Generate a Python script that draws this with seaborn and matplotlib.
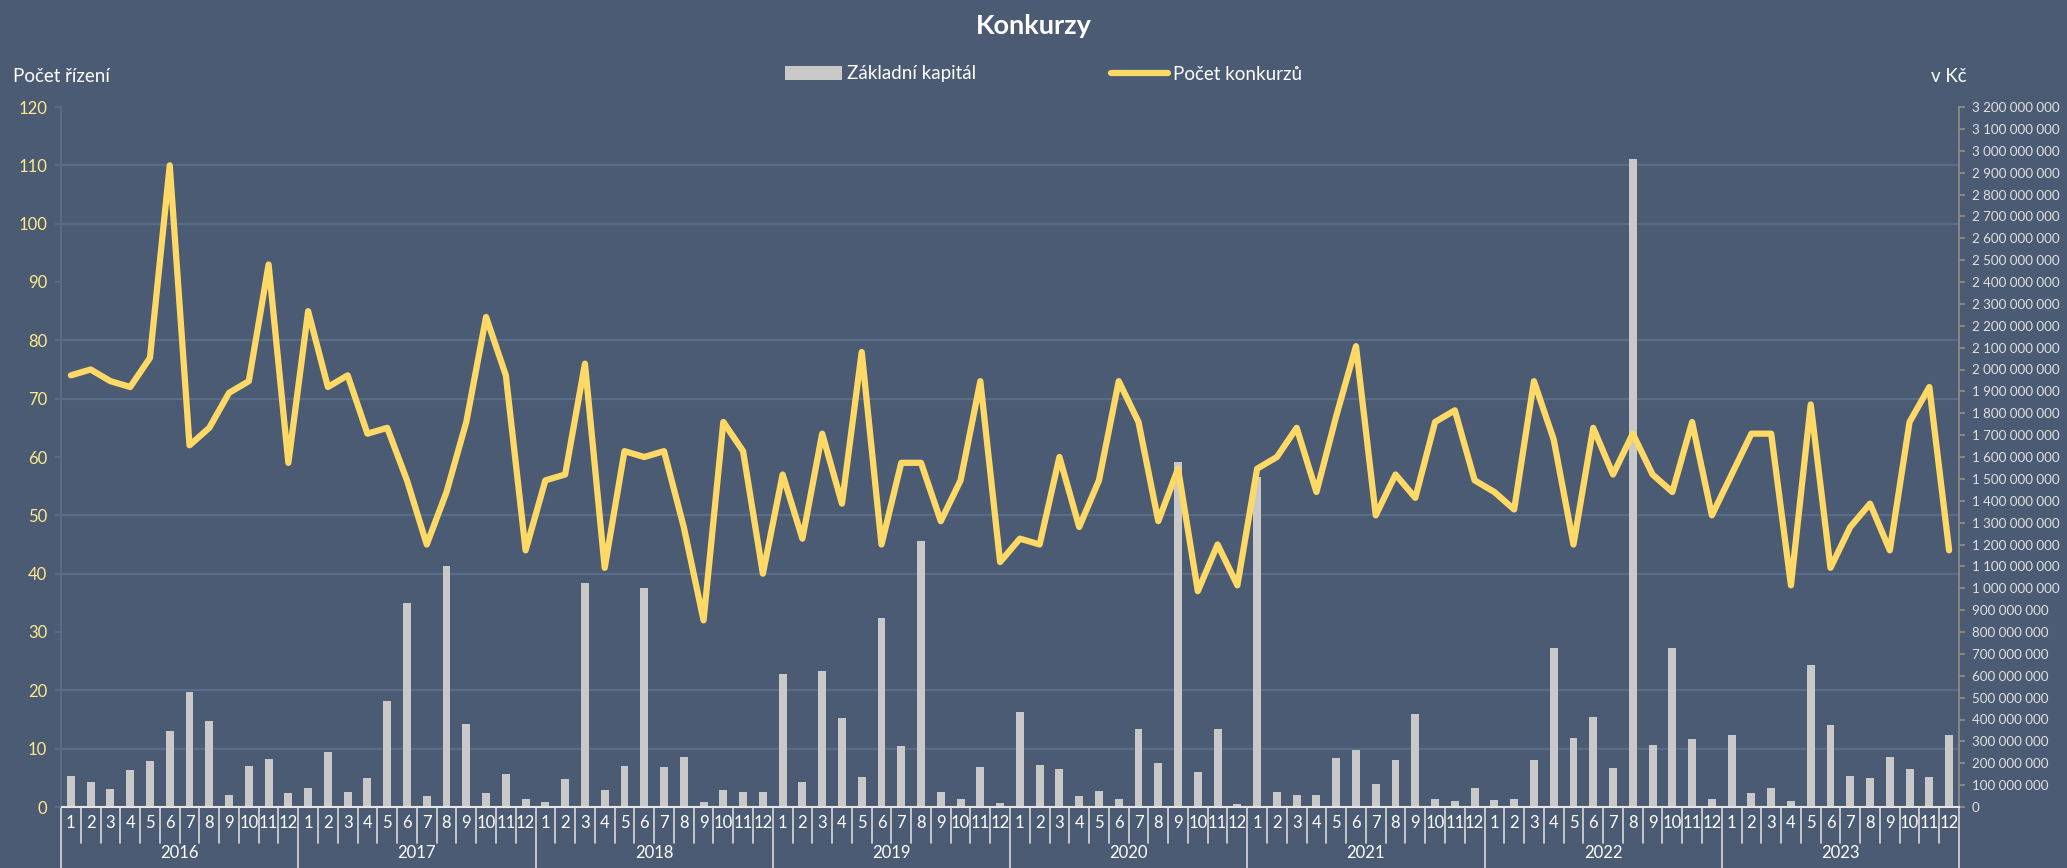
import matplotlib
matplotlib.use('Agg')
import matplotlib.pyplot as plt
import matplotlib.ticker as mticker
import matplotlib.transforms as mtrans
from matplotlib.patches import Patch
from matplotlib.lines import Line2D
import numpy as np
import pandas as pd
import seaborn as sns

# data
roky = [2016, 2017, 2018, 2019, 2020, 2021, 2022, 2023]
mesice = list(range(1, 13))

pocet_konkurzu = [
    74, 75, 73, 72, 77, 110, 62, 65, 71, 73, 93, 59,   # 2016
    85, 72, 74, 64, 65, 56, 45, 54, 66, 84, 74, 44,    # 2017
    56, 57, 76, 41, 61, 60, 61, 48, 32, 66, 61, 40,    # 2018
    57, 46, 64, 52, 78, 45, 59, 59, 49, 56, 73, 42,    # 2019
    46, 45, 60, 48, 56, 73, 66, 49, 58, 37, 45, 38,    # 2020
    58, 60, 65, 54, 67, 79, 50, 57, 53, 66, 68, 56,    # 2021
    54, 51, 73, 63, 45, 65, 57, 64, 57, 54, 66, 50,    # 2022
    57, 64, 64, 38, 69, 41, 48, 52, 44, 66, 72, 44,    # 2023
]

# zakladni kapital v milionech Kc
kapital_mil = [
    141, 115, 81, 169, 209, 347, 526, 393, 55, 188, 219, 66,
    85, 252, 70, 134, 486, 934, 51, 1104, 378, 63, 151, 37,
    23, 128, 1024, 78, 188, 1002, 183, 229, 23, 78, 70, 70,
    606, 115, 624, 407, 136, 865, 281, 1218, 70, 38, 184, 18,
    433, 194, 176, 51, 73, 38, 355, 199, 1576, 161, 355, 12,
    1509, 70, 55, 55, 222, 259, 106, 216, 426, 37, 28, 88,
    30, 35, 214, 725, 315, 410, 178, 2963, 284, 725, 309, 35,
    327, 65, 85, 28, 650, 377, 141, 131, 229, 174, 138, 329,
]

df = pd.DataFrame({
    'idx': range(len(pocet_konkurzu)),
    'mesic': mesice * len(roky),
    'pocet': pocet_konkurzu,
    'kapital': np.array(kapital_mil) * 1e6,
})

bg = '#4b5b73'
grid_c = '#5a6d88'
bar_c = '#c9c9c9'
line_c = '#ffd966'
W, H = 2067, 868

sns.set_theme(style='white')
plt.rcParams['font.family'] = ['Lato', 'DejaVu Sans']

fig = plt.figure(figsize=(W / 100, H / 100), dpi=100, facecolor=bg)
ax = fig.add_axes([61 / W, 1 - 807 / H, (1959 - 61) / W, (807 - 107) / H])
ax.set_facecolor(bg)

# sloupce - zakladni kapital (prava osa)
sns.barplot(data=df, x='idx', y='kapital', color=bar_c, saturation=1,
            width=0.4, errorbar=None, ax=ax, zorder=2, edgecolor='none',
            linewidth=0)

# pocet konkurzu (leva osa)
ax2 = ax.twinx()
sns.lineplot(data=df, x='idx', y='pocet', color=line_c, lw=4.5, ax=ax2,
             solid_capstyle='round', solid_joinstyle='round')

# twinx prehodi osy, tak je vratit
ax.yaxis.tick_right()
ax.yaxis.set_label_position('right')
ax2.yaxis.tick_left()
ax2.yaxis.set_label_position('left')

ax.set_ylim(0, 3.2e9)
ax.yaxis.set_major_locator(mticker.MultipleLocator(1e8))
ax.yaxis.set_major_formatter(mticker.FuncFormatter(lambda v, p: f'{int(round(v)):,}'.replace(',', ' ')))
ax.yaxis.set_minor_locator(mticker.FixedLocator(np.linspace(0, 3.2e9, 13)))
ax.grid(which='minor', axis='y', color=grid_c, lw=1.6)
ax.grid(which='major', visible=False)
ax.set_axisbelow(True)
ax.tick_params(axis='y', which='major', left=False, right=True, labelleft=False,
               labelright=True, length=4, color='#8f8f80',
               labelcolor='#e0e0e0', labelsize=9.6, pad=5)
ax.tick_params(axis='y', which='minor', left=False, right=False, length=0)

# mesice na ose x
ax.set_xticks(range(len(df)))
ax.set_xticklabels(df['mesic'], color='white', fontsize=12)
ax.tick_params(axis='x', length=0, pad=6)
ax.set_xlim(-0.5, len(df) - 0.5)
ax.set_xlabel('')
ax.set_ylabel('')

ax.spines['top'].set_visible(False)
ax.spines['right'].set_color('#8f8f80')
ax.spines['left'].set_color(grid_c)
ax.spines['bottom'].set_color('#e6e6e6')
ax.spines['bottom'].set_linewidth(1.5)

ax2.set_ylim(0, 120)
ax2.set_yticks(range(0, 121, 10))
ax2.tick_params(axis='y', left=True, right=False, labelleft=True,
                labelright=False, length=4, color=grid_c,
                labelcolor='#ffe98c', labelsize=12, pad=6)
ax2.set_ylabel('')
ax2.set_xlabel('')
ax2.set_xlim(-0.5, len(df) - 0.5)
for s in ax2.spines.values():
    s.set_visible(False)

# oddelovace mesicu a roku
tr = mtrans.blended_transform_factory(ax.transData, ax.transAxes)
for i in range(len(df) + 1):
    y_end = -0.089 if i % 12 == 0 else -0.052
    ax.plot([i - 0.5, i - 0.5], [0, y_end], transform=tr, color='#d9d9d9',
            lw=1.2, clip_on=False)
for k, rok in enumerate(roky):
    ax.text(k * 12 + 5.5, -0.066, str(rok), transform=tr, ha='center',
            va='center', color='white', fontsize=12)

fig.text(0.5, 1 - 26 / H, 'Konkurzy', ha='center', va='center', color='white',
         fontsize=19.5, weight='bold')
fig.text(13 / W, 1 - 76 / H, 'Počet řízení', ha='left', va='center',
         color='white', fontsize=13.5)
fig.text(1931 / W, 1 - 76 / H, 'v Kč', ha='left', va='center',
         color='white', fontsize=13.5)

handles = [Patch(facecolor=bar_c, edgecolor='none'),
           Line2D([0], [0], color=line_c, lw=4.5, solid_capstyle='round')]
fig.legend(handles, ['Základní kapitál', 'Počet konkurzů'], loc='center',
           bbox_to_anchor=(0.505, 1 - 74 / H), ncol=2, frameon=False,
           fontsize=13.5, labelcolor='white', handlelength=3,
           handletextpad=0.3, columnspacing=7.2)

fig.savefig('out.png', dpi=100, facecolor=bg)
